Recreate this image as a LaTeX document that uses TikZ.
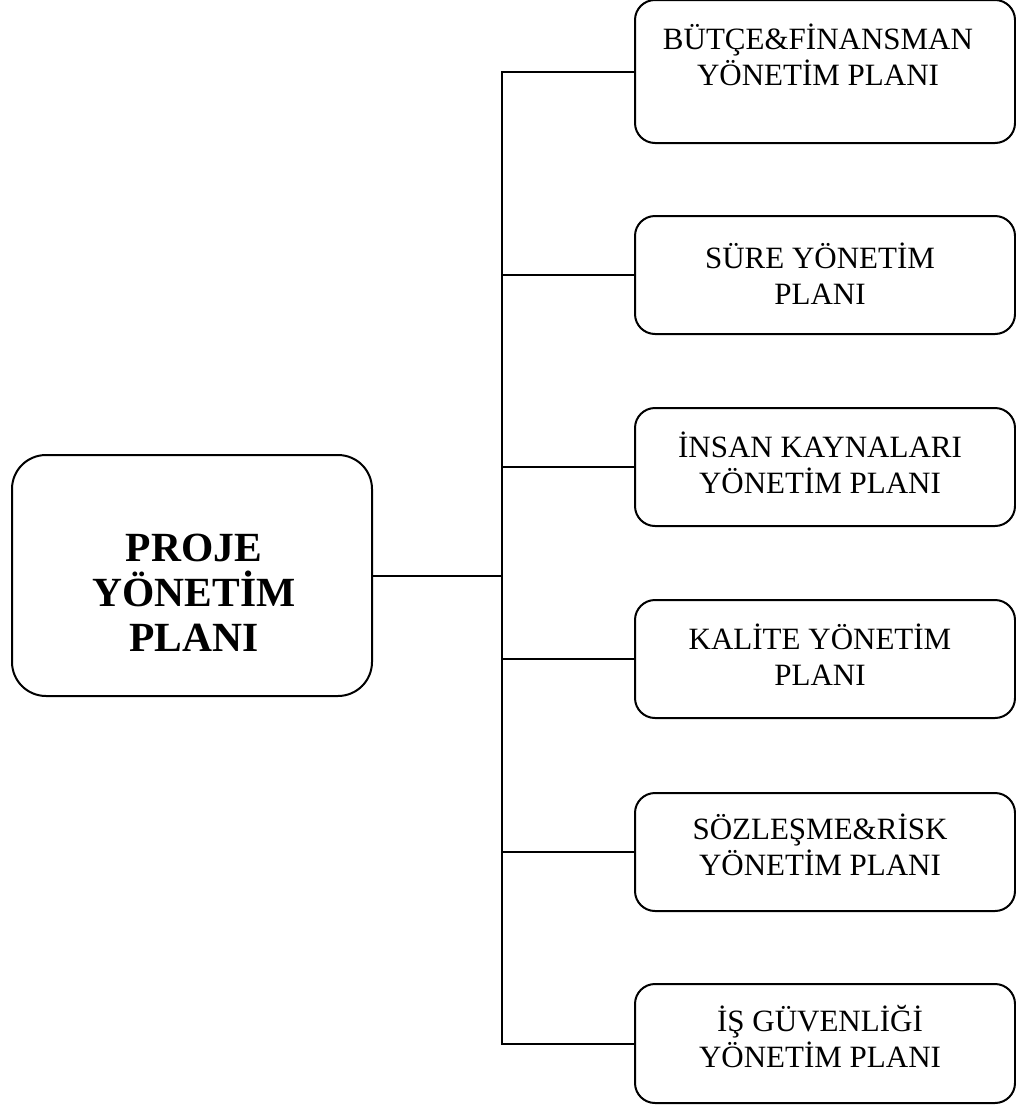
\documentclass[tikz,border=0pt]{standalone}
\usepackage{fontspec}
\setmainfont{Liberation Serif}
\begin{document}
\begin{tikzpicture}[x=1pt,y=-1pt,
  box/.style={draw,line width=2pt,rounded corners=20pt,minimum width=380pt,minimum height=118pt,inner sep=0pt},
  mainbox/.style={draw,line width=2pt,rounded corners=34pt,minimum width=360pt,minimum height=241pt,inner sep=0pt},
  lbl/.style={align=center,font=\fontsize{31}{36}\selectfont,inner sep=0pt},
  mainlbl/.style={align=center,font=\fontsize{41.5}{45}\selectfont\bfseries,inner sep=0pt},
  conn/.style={line width=2pt}]
\useasboundingbox (0,0) rectangle (1016,1106);
\node[mainbox] (main) at (192,575.5) {};
\node[mainlbl] (mainT) at (194,593) {PROJE\\YÖNETİM\\PLANI};
\node[box,minimum height=143pt] (b1) at (825,71.5) {};
\node[box] (b2) at (825,275) {};
\node[box] (b3) at (825,467) {};
\node[box] (b4) at (825,659) {};
\node[box] (b5) at (825,852) {};
\node[box,minimum height=119pt] (b6) at (825,1043.5) {};
\node[lbl] (t1) at (818,55) {BÜTÇE\&FİNANSMAN\\YÖNETİM PLANI};
\node[lbl] (t2) at (820,274) {SÜRE YÖNETİM\\PLANI};
\node[lbl] (t3) at (820,463) {İNSAN KAYNALARI\\YÖNETİM PLANI};
\node[lbl] (t4) at (820,655) {KALİTE YÖNETİM\\PLANI};
\node[lbl] (t5) at (820,845) {SÖZLEŞME\&RİSK\\YÖNETİM PLANI};
\node[lbl] (t6) at (820,1037) {İŞ GÜVENLİĞİ\\YÖNETİM PLANI};
\coordinate (trunk) at (502,575.5);
\draw[conn] (main.east) -- (trunk);
\draw[conn] (b1.west) -| (trunk);
\draw[conn] (b6.west) -| (trunk);
\foreach \b in {b2,b3,b4,b5} \draw[conn] (\b.west) -- (\b.west -| trunk);
\end{tikzpicture}
\end{document}
